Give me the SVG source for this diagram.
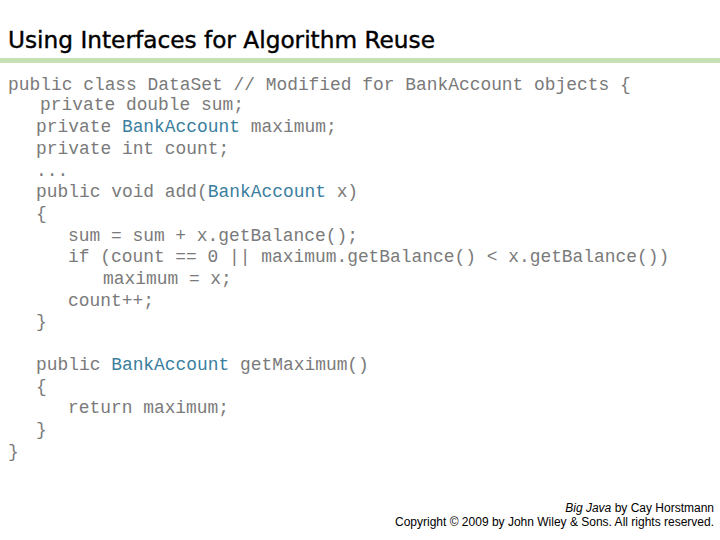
<svg xmlns="http://www.w3.org/2000/svg" width="720" height="540" viewBox="0 0 720 540">
<style>
.c{font-family:"Liberation Mono","Courier New",monospace;font-size:17.9px;fill:#7a7a7a;white-space:pre}
.b{fill:#3a7e9e}
.t{font-family:"DejaVu Sans",Verdana,sans-serif;font-size:23px;fill:#000;stroke:#000;stroke-width:0.4px}
.f{font-family:"Liberation Sans",Arial,sans-serif;font-size:12px;fill:#000}
</style>
<rect width="720" height="540" fill="#fff"/>
<text class="t" x="8" y="48" textLength="427" lengthAdjust="spacingAndGlyphs">Using Interfaces for Algorithm Reuse</text>
<rect x="0" y="58" width="720" height="5" fill="#c6e2b4"/>
<g id="code">
<text class="c" x="8" y="90">public class DataSet // Modified for BankAccount objects {</text>
<text class="c" x="40" y="110">private double sum;</text>
<text class="c" x="36" y="132">private <tspan class="b">BankAccount</tspan> maximum;</text>
<text class="c" x="36" y="154">private int count;</text>
<text class="c" x="36" y="176">...</text>
<text class="c" x="36" y="197">public void add(<tspan class="b">BankAccount</tspan> x)</text>
<text class="c" x="36" y="219">{</text>
<text class="c" x="68" y="241">sum = sum + x.getBalance();</text>
<text class="c" x="68" y="262">if (count == 0 || maximum.getBalance() &lt; x.getBalance())</text>
<text class="c" x="103" y="284">maximum = x;</text>
<text class="c" x="68" y="306">count++;</text>
<text class="c" x="36" y="327">}</text>
<text class="c" x="36" y="370">public <tspan class="b">BankAccount</tspan> getMaximum()</text>
<text class="c" x="36" y="392">{</text>
<text class="c" x="68" y="413">return maximum;</text>
<text class="c" x="36" y="435">}</text>
<text class="c" x="8" y="457">}</text>
</g>
<text class="f" x="714" y="512" text-anchor="end"><tspan font-style="italic">Big Java</tspan> by Cay Horstmann</text>
<text class="f" x="714" y="526" text-anchor="end">Copyright © 2009 by John Wiley &amp; Sons.  All rights reserved.</text>
</svg>
